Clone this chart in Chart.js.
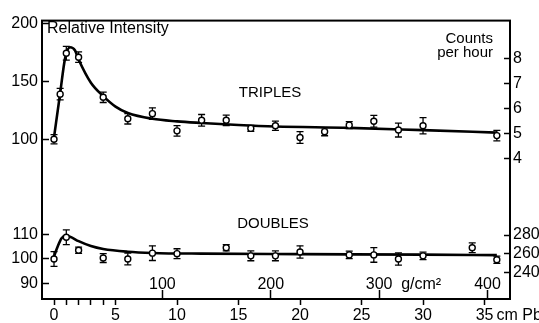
<!DOCTYPE html>
<html><head><meta charset="utf-8">
<script src="https://cdn.jsdelivr.net/npm/chart.js@4/dist/chart.umd.min.js"></script>
<style>html,body{margin:0;padding:0;background:#fff}canvas{display:block}</style>
</head><body>
<canvas id="c" width="539" height="323"></canvas>
<script>
// ---- data ----
const triplesX   = [0, 0.5, 1, 2, 4, 6, 8, 10, 12, 14, 16, 18, 20, 22, 24, 26, 28, 30, 36];
const triplesY   = [100.4, 139.2, 174.4, 171, 136.5, 118, 122.4, 107.6, 116.7, 116.7, 109.7, 112, 101.9, 106.9, 112.5, 115.9, 108.3, 112, 103.5];
const triplesErr = [4, 5, 6, 4.5, 4.5, 4.5, 5, 4.5, 5, 4.5, 2.5, 4, 5, 3.5, 3, 5, 6, 7, 4.5];
const triplesFitX = [0, 0.5, 0.9, 1.3, 1.7, 2, 3, 4, 5, 6, 8, 10, 12, 15, 18, 24, 30, 36];
const triplesFitY = [102, 140, 170, 179.5, 177, 169, 149, 137.5, 128.5, 123, 118, 115.8, 114.4, 112.6, 111.3, 110.2, 108.2, 106.1];
const doublesX   = [0, 1, 2, 4, 6, 8, 10, 14, 16, 18, 20, 24, 26, 28, 30, 34, 36];
const doublesY   = [99.9, 108.8, 103.5, 100.3, 99.9, 102.3, 102.1, 104.5, 101.2, 101.2, 102.8, 101.6, 101.6, 99.9, 101.2, 104.5, 99.6];
const doublesErr = [3, 3, 1.3, 1.8, 2.4, 3, 2, 1.3, 2, 2, 2.5, 1.5, 3, 2.5, 1.5, 2, 1.5];
const doublesFitX = [0, 0.3, 0.6, 0.9, 1.3, 2, 3, 4, 6, 8, 12, 20, 30, 36];
const doublesFitY = [101, 105, 108.3, 109.3, 109, 107.2, 105.2, 104, 102.9, 102.4, 102.1, 101.9, 101.7, 101.5];
const cmTicks    = [0, 1, 2, 3, 4, 5, 10, 15, 20, 25, 30, 35];
const cmLabels   = ['0', '', '', '', '', '5', '10', '15', '20', '25', '30', '35'];
const gTicks     = [100, 200, 300, 400];
const relTicksUpper   = [100, 150, 200];
const relTicksLower   = [90, 100, 110];
const countTicksUpper = [4, 5, 6, 7, 8];
const countTicksLower = [240, 260, 280];
const RHO = 11.35; // g/cm^3 of lead, cm -> g/cm^2

// ---- axis ranges ----
const X_MIN = -0.976, X_MAX = 37.07;
const T_MIN = 54.85, T_MAX = 202.5;
const D_MIN = 83.6,  D_MAX = 127.2;
const CT_MIN = 2.647, CT_MAX = 9.51;
const CD_MIN = 212.1, CD_MAX = 325.6;

const FONT = 'Liberation Sans';
Chart.defaults.font.family = FONT;
Chart.defaults.font.size = 16;
Chart.defaults.color = '#000';

const pts = (xs, ys) => xs.map((x, i) => ({x, y: ys[i]}));
const errSeg = (xs, ys, es) => xs.flatMap((x, i) => [{x, y: ys[i] - es[i]}, {x, y: ys[i] + es[i]}, {x, y: null}]);
const errCap = (xs, ys, es) => xs.flatMap((x, i) => [{x, y: ys[i] - es[i]}, {x, y: ys[i] + es[i]}]);
const setTicks = arr => s => { s.ticks = arr.map(v => ({value: v})); };

const fitDs = (data, axis) => ({type: 'line', data, yAxisID: axis, borderColor: '#000', borderWidth: 2.6,
  pointRadius: 0, cubicInterpolationMode: 'monotone', fill: false, order: 3});
const barDs = (data, axis) => ({type: 'line', data, yAxisID: axis, borderColor: '#000', borderWidth: 1.3,
  pointRadius: 0, spanGaps: false, fill: false, order: 2});
const capDs = (data, axis) => ({type: 'scatter', data, yAxisID: axis, pointStyle: 'line', pointRadius: 3.5,
  borderColor: '#000', borderWidth: 1.3, showLine: false, order: 1});
const ptDs = (data, axis) => ({type: 'scatter', data, yAxisID: axis, pointStyle: 'circle', pointRadius: 3,
  backgroundColor: '#fff', borderColor: '#000', borderWidth: 1.4, showLine: false, order: 0});

const yAxis = (pos, stack, weight, min, max, ticks, width, pad, tl) => ({
  type: 'linear', position: pos, stack, stackWeight: weight, min, max,
  afterBuildTicks: setTicks(ticks),
  afterFit: s => { s.width = width; },
  ticks: {padding: pad, font: {size: 16, family: FONT}, color: '#000'},
  grid: {drawOnChartArea: false, tickLength: tl, tickWidth: 1.5, color: '#000'},
  border: {display: true, color: '#000', width: 2}
});

const annot = {
  id: 'annot',
  afterDraw(chart) {
    const ctx = chart.ctx, a = chart.chartArea;
    ctx.save();
    ctx.strokeStyle = '#000'; ctx.lineWidth = 2;
    ctx.strokeRect(a.left, a.top, a.right - a.left, a.bottom - a.top);
    ctx.fillStyle = '#000';
    ctx.textBaseline = 'middle';
    ctx.font = '16px "' + FONT + '"';
    ctx.textAlign = 'left';
    ctx.fillText('Relative Intensity', 47, 29);
    ctx.font = '15px "' + FONT + '"';
    ctx.textAlign = 'center';
    ctx.fillText('TRIPLES', 270, 92.5);
    ctx.fillText('DOUBLES', 273, 223.5);
    ctx.textAlign = 'right';
    ctx.fillText('Counts', 493, 39);
    ctx.fillText('per hour', 493, 53);
    ctx.font = '16px "' + FONT + '"';
    ctx.textAlign = 'left';
    ctx.fillText('g/cm²', chart.scales.xg.getPixelForValue(300) + 22, 285);
    ctx.fillText('cm Pb', chart.scales.x.getPixelForValue(35) + 12, 316);
    ctx.restore();
  }
};

new Chart(document.getElementById('c'), {
  type: 'scatter',
  data: {datasets: [
    fitDs(pts(triplesFitX, triplesFitY), 'yT'),
    barDs(errSeg(triplesX, triplesY, triplesErr), 'yT'),
    capDs(errCap(triplesX, triplesY, triplesErr), 'yT'),
    ptDs(pts(triplesX, triplesY), 'yT'),
    fitDs(pts(doublesFitX, doublesFitY), 'yD'),
    barDs(errSeg(doublesX, doublesY, doublesErr), 'yD'),
    capDs(errCap(doublesX, doublesY, doublesErr), 'yD'),
    ptDs(pts(doublesX, doublesY), 'yD')
  ]},
  options: {
    responsive: false, animation: false,
    layout: {padding: {top: 15, left: 0, right: 0, bottom: 0}},
    plugins: {legend: {display: false}, tooltip: {enabled: false}},
    scales: {
      x: {
        type: 'linear', position: 'bottom', min: X_MIN, max: X_MAX,
        afterBuildTicks: setTicks(cmTicks),
        afterFit: s => { s.height = 24; },
        ticks: {callback: (v, i) => cmLabels[i], padding: 1, autoSkip: false, maxRotation: 0, font: {size: 16, family: FONT}},
        grid: {drawOnChartArea: false, tickLength: 6, tickWidth: 1.5, color: '#000'},
        border: {color: '#000', width: 2}
      },
      xg: {
        type: 'linear', axis: 'x', position: {yD: D_MIN}, min: X_MIN * RHO, max: X_MAX * RHO,
        afterBuildTicks: setTicks(gTicks),
        ticks: {padding: -14.6, autoSkip: false, maxRotation: 0, font: {size: 16, family: FONT}},
        grid: {drawOnChartArea: false, tickLength: -9, tickWidth: 1.5, color: '#000'},
        border: {display: false}
      },
      // left boxes are laid out in reverse order: lower stack part first
      yD: yAxis('left', 'L', 109, D_MIN, D_MAX, relTicksLower, 42, 11, -7),
      yT: yAxis('left', 'L', 175, T_MIN, T_MAX, relTicksUpper, 42, 11, -7),
      cT: yAxis('right', 'R', 175, CT_MIN, CT_MAX, countTicksUpper, 29, 9, -6),
      cD: yAxis('right', 'R', 109, CD_MIN, CD_MAX, countTicksLower, 29, 9, -6)
    }
  },
  plugins: [annot]
});
</script>
</body></html>
